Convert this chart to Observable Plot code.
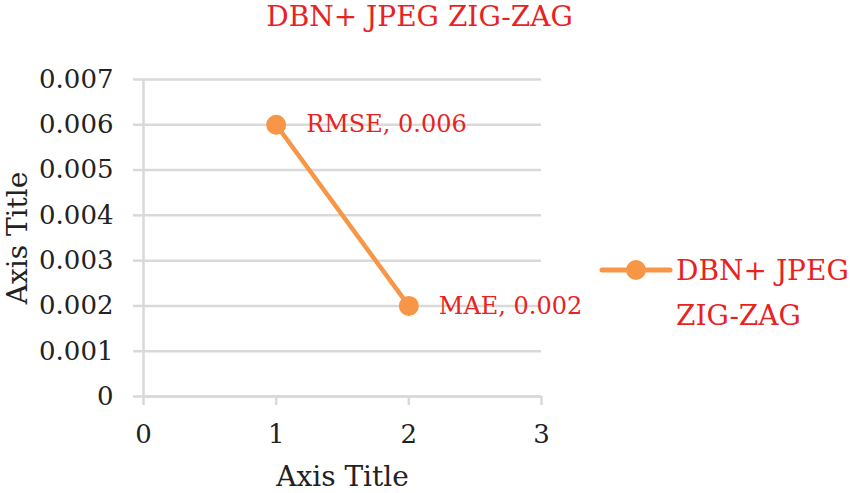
<!DOCTYPE html>
<html>
<head>
<meta charset="utf-8">
<script src="https://cdn.jsdelivr.net/npm/d3@7"></script>
<script src="https://cdn.jsdelivr.net/npm/@observablehq/plot@0.6"></script>
<style>
  html, body { margin: 0; padding: 0; background: #fff; }
  #wrap { position: relative; width: 850px; height: 493px; overflow: hidden; }
  #legend { position: absolute; left: 598px; top: 248px; display: flex; align-items: flex-start;
            font-family: "DejaVu Serif", serif; font-size: 28px; line-height: 45px; }
  #legend .txt { width: 190px; }
</style>
</head>
<body>
<div id="wrap"></div>
<script>
const chartTitle = "DBN+ JPEG ZIG-ZAG";
const seriesName = "DBN+ JPEG ZIG-ZAG";
const categories = ["RMSE", "MAE"];
const xValues = [1, 2];
const yValues = [0.006, 0.002];
const xTicks = [0, 1, 2, 3];
const yTicks = [0, 0.001, 0.002, 0.003, 0.004, 0.005, 0.006, 0.007];
const xAxisTitle = "Axis Title";
const yAxisTitle = "Axis Title";

const lineColor = "#f79646";
const redText = "#e8231f";
const gridColor = "#d9d9d9";
const font = "DejaVu Serif";

const data = categories.map((c, i) => ({cat: c, x: xValues[i], y: yValues[i]}));

const chart = Plot.plot({
  width: 850,
  height: 493,
  marginTop: 79,
  marginBottom: 97,
  marginLeft: 143,
  marginRight: 309,
  style: {fontFamily: font, background: "#fff", color: "#222"},
  x: {domain: [0, 3], ticks: xTicks},
  y: {domain: [0, 0.007], ticks: yTicks},
  marks: [
    Plot.gridY(yTicks, {stroke: gridColor, strokeOpacity: 1, strokeWidth: 2.5}),
    Plot.ruleX([0], {stroke: gridColor, strokeWidth: 2.5}),
    Plot.ruleY([0], {stroke: gridColor, strokeWidth: 2.5}),
    Plot.axisY(yTicks, {tickSize: 10, tickPadding: 20, stroke: gridColor, strokeWidth: 2.5, fill: "#222",
      fontSize: 26, tickFormat: d => d === 0 ? "0" : d.toFixed(3), label: null}),
    Plot.axisX(xTicks, {tickSize: 9, tickPadding: 19, stroke: gridColor, strokeWidth: 2.5, fill: "#222",
      fontSize: 26, tickFormat: d => String(d), label: null}),
    Plot.line(data, {x: "x", y: "y", stroke: lineColor, strokeWidth: 4.5}),
    Plot.dot(data, {x: "x", y: "y", r: 10, fill: lineColor, stroke: null}),
    Plot.text(data, {x: "x", y: "y", text: d => `${d.cat}, ${d.y}`, textAnchor: "start", dx: 30,
      fill: redText, fontSize: 24}),
    Plot.text([chartTitle], {frameAnchor: "top", dx: 77, dy: -73, fill: redText, fontSize: 28}),
    Plot.text([xAxisTitle], {frameAnchor: "bottom", dy: 89, fill: "#222", fontSize: 28}),
    Plot.text([yAxisTitle], {frameAnchor: "left", textAnchor: "middle", dx: -125, rotate: -90, fill: "#222", fontSize: 28})
  ]
});

const wrap = document.getElementById("wrap");
wrap.appendChild(chart);

const legend = document.createElement("div");
legend.id = "legend";
legend.innerHTML = `<svg width="78" height="44" style="flex:none"><line x1="4" x2="72" y1="22" y2="22" stroke="${lineColor}" stroke-width="5" stroke-linecap="round"/><circle cx="38" cy="22" r="10" fill="${lineColor}"/></svg><div class="txt" style="color:${redText}"></div>`;
legend.querySelector(".txt").textContent = seriesName;
wrap.appendChild(legend);
</script>
</body>
</html>
